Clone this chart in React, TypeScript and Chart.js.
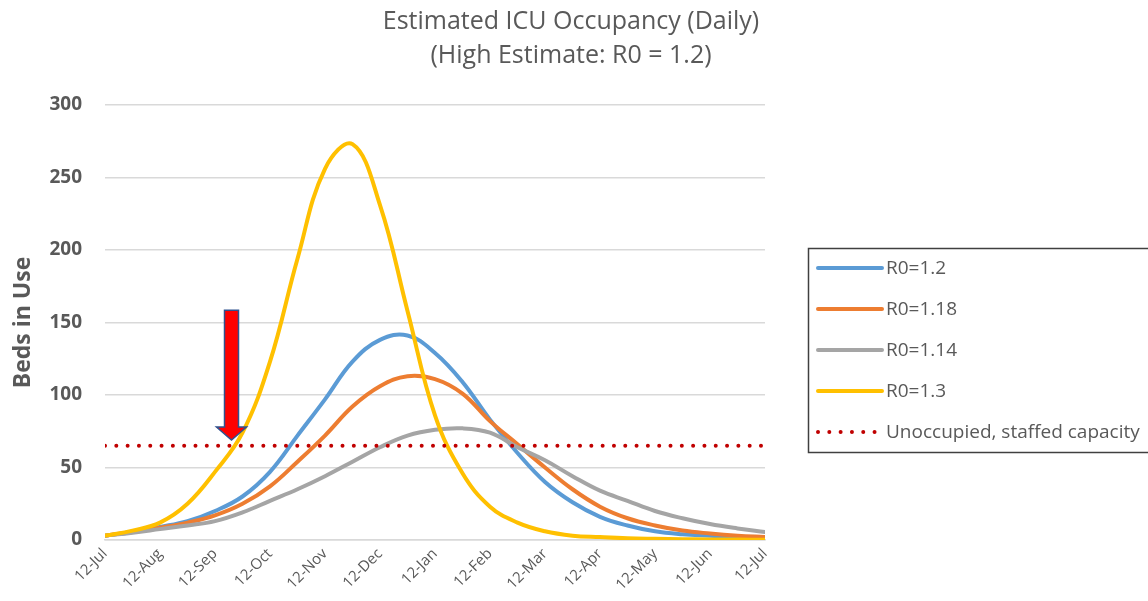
import React, { useEffect, useRef } from 'react';
import { Chart, registerables } from 'chart.js';

Chart.register(...registerables);

// Half-month steps from 12-Jul (0) to next 12-Jul (12)
const monthOffsets = [0, 0.5, 1, 1.5, 2, 2.5, 3, 3.5, 4, 4.5, 5, 5.5, 6, 6.5, 7, 7.5, 8, 8.5, 9, 9.5, 10, 10.5, 11, 11.5, 12];
const xTickLabels = ['12-Jul', '12-Aug', '12-Sep', '12-Oct', '12-Nov', '12-Dec', '12-Jan', '12-Feb', '12-Mar', '12-Apr', '12-May', '12-Jun', '12-Jul'];

const titleLines = ['Estimated ICU Occupancy (Daily)', '(High Estimate: R0 = 1.2)'];
const yAxisTitle = 'Beds in Use';
const seriesLabels = ['R0=1.2', 'R0=1.18', 'R0=1.14', 'R0=1.3', 'Unoccupied, staffed capacity'];
const r0_120 = [3, 5.5, 9, 13, 20, 30, 47, 72, 97, 123, 138, 141, 129, 109, 83, 60, 40, 26, 16, 10, 6, 4, 3, 2, 1.5];
const r0_118 = [3, 5.5, 8.5, 12, 17, 25, 37, 54, 72, 92, 106, 113, 111, 101, 82, 66, 50, 35, 23, 15, 10, 6.5, 4.5, 3, 2];
const r0_114 = [3, 5, 7.5, 10, 13, 19, 27, 35, 44, 54, 64, 72, 76, 77, 74, 64, 55, 44, 34, 27, 20, 15, 11, 8, 5.5];
const r0_130 = [3, 6.5, 12, 25, 47, 74, 123, 194, 256, 273, 231, 158, 86, 46, 23, 12, 6, 3, 2, 1.2, 0.8, 0.5, 0.4, 0.3, 0.2];
const staffedCapacity = 65;

const yTicks = { min: 0, max: 300, step: 50 };

// Arrow annotation (data units)
const arrowMonth = 2.3;
const arrowTopValue = 158.5;
const arrowTipValue = 69;

const TEXT = '#595959';
const FONT = "'Open Sans', 'Noto Sans', sans-serif";

const titlePlugin = {
  id: 'centeredTitle',
  afterDraw(chart: any) {
    const ctx = chart.ctx;
    ctx.save();
    ctx.fillStyle = TEXT;
    ctx.font = `25px ${FONT}`;
    ctx.textAlign = 'center';
    ctx.textBaseline = 'middle';
    titleLines.forEach((t, i) => ctx.fillText(t, 571, 22 + i * 34));
    ctx.restore();
  },
};

const arrowPlugin = {
  id: 'arrowMark',
  afterDatasetsDraw(chart: any) {
    const xs = chart.scales.x;
    const ys = chart.scales.y;
    const cx = xs.getPixelForValue(arrowMonth);
    const top = ys.getPixelForValue(arrowTopValue);
    const tip = ys.getPixelForValue(arrowTipValue);
    const bodyHalf = 7;
    const headHalf = 15;
    const headH = 13;
    const ctx = chart.ctx;
    ctx.save();
    ctx.beginPath();
    ctx.moveTo(cx - bodyHalf, top);
    ctx.lineTo(cx + bodyHalf, top);
    ctx.lineTo(cx + bodyHalf, tip - headH);
    ctx.lineTo(cx + headHalf, tip - headH);
    ctx.lineTo(cx, tip);
    ctx.lineTo(cx - headHalf, tip - headH);
    ctx.lineTo(cx - bodyHalf, tip - headH);
    ctx.closePath();
    ctx.fillStyle = '#FF0000';
    ctx.fill();
    ctx.lineWidth = 1.5;
    ctx.strokeStyle = '#2F528F';
    ctx.lineJoin = 'miter';
    ctx.stroke();
    ctx.restore();
  },
};

const boxLegendPlugin = {
  id: 'boxLegend',
  afterDraw(chart: any) {
    const ctx = chart.ctx;
    const left = 808;
    const top = 248;
    const height = 204;
    const rowTop = 268;
    const rowGap = 41;
    const lineStart = 818;
    const lineEnd = 882;
    const textX = 886;
    ctx.save();
    ctx.strokeStyle = '#404040';
    ctx.lineWidth = 1.5;
    ctx.setLineDash([]);
    ctx.strokeRect(left + 0.5, top + 0.5, 400, height);
    chart.data.datasets.forEach((ds: any, i: number) => {
      const y = rowTop + i * rowGap;
      ctx.beginPath();
      ctx.strokeStyle = ds.borderColor;
      ctx.lineWidth = ds.borderWidth;
      ctx.lineCap = 'round';
      ctx.setLineDash(ds.borderDash || []);
      ctx.moveTo(lineStart, y);
      ctx.lineTo(lineEnd, y);
      ctx.stroke();
      ctx.setLineDash([]);
      ctx.fillStyle = TEXT;
      ctx.font = `19px ${FONT}`;
      ctx.textBaseline = 'middle';
      ctx.textAlign = 'left';
      ctx.fillText(ds.label, textX, y + 1);
    });
    ctx.restore();
  },
};

export default function App() {
  const canvasRef = useRef<HTMLCanvasElement | null>(null);

  useEffect(() => {
    const canvas = canvasRef.current;
    if (!canvas) return;
    const mk = (values: number[]) => monthOffsets.map((m, i) => ({ x: m, y: values[i] }));
    const lineDs = (label: string, values: number[], color: string, order: number) => ({
      label,
      data: mk(values),
      borderColor: color,
      backgroundColor: color,
      borderWidth: 4,
      pointRadius: 0,
      tension: 0.4,
      borderCapStyle: 'round' as const,
      borderJoinStyle: 'round' as const,
      fill: false,
      order,
    });
    const chart = new Chart(canvas, {
      type: 'line',
      data: {
        datasets: [
          lineDs(seriesLabels[0], r0_120, '#5B9BD5', 5),
          lineDs(seriesLabels[1], r0_118, '#ED7D31', 4),
          lineDs(seriesLabels[2], r0_114, '#A5A5A5', 3),
          lineDs(seriesLabels[3], r0_130, '#FFC000', 2),
          {
            label: seriesLabels[4],
            data: [
              { x: monthOffsets[0], y: staffedCapacity },
              { x: monthOffsets[monthOffsets.length - 1], y: staffedCapacity },
            ],
            borderColor: '#C00000',
            backgroundColor: '#C00000',
            borderWidth: 4,
            borderDash: [0.01, 11.3],
            borderCapStyle: 'round' as const,
            pointRadius: 0,
            fill: false,
            order: 1,
          },
        ],
      },
      options: {
        responsive: false,
        animation: false,
        events: [],
        font: { family: FONT },
        layout: { padding: { left: 0, right: 383, top: 105, bottom: 0 } },
        plugins: {
          legend: { display: false },
          tooltip: { enabled: false },
          title: { display: false },
        },
        scales: {
          x: {
            type: 'linear',
            min: 0,
            max: 12,
            afterFit: (scale: any) => { scale.height = 61; },
            afterBuildTicks: (scale: any) => {
              scale.ticks = xTickLabels.map((_, i) => ({ value: i }));
            },
            ticks: {
              autoSkip: false,
              maxRotation: 45,
              minRotation: 45,
              padding: 5,
              color: TEXT,
              font: { family: FONT, size: 15 },
              callback: (v: any) => xTickLabels[Math.round(Number(v))],
            },
            grid: { display: false, drawTicks: false },
            border: { display: true, color: '#D9D9D9', width: 1.5 },
          },
          y: {
            min: yTicks.min,
            max: yTicks.max,
            afterFit: (scale: any) => { scale.width = 105; },
            ticks: {
              stepSize: yTicks.step,
              padding: 23,
              color: TEXT,
              font: { family: FONT, size: 19, weight: 'bold' },
            },
            grid: { color: '#D9D9D9', lineWidth: 1.5, drawTicks: false },
            border: { display: false },
            title: {
              display: true,
              text: yAxisTitle,
              color: TEXT,
              font: { family: FONT, size: 23, weight: 'bold', lineHeight: 1.2 },
              padding: { top: 10, bottom: 0 },
            },
          },
        },
      },
      plugins: [titlePlugin, arrowPlugin, boxLegendPlugin],
    } as any);
    return () => chart.destroy();
  }, []);

  return (
    <div style={{ position: 'fixed', left: 0, top: 0, width: 1148, height: 601, background: '#fff', overflow: 'hidden' }}>
      <canvas ref={canvasRef} width={1148} height={601} style={{ display: 'block' }} />
    </div>
  );
}
